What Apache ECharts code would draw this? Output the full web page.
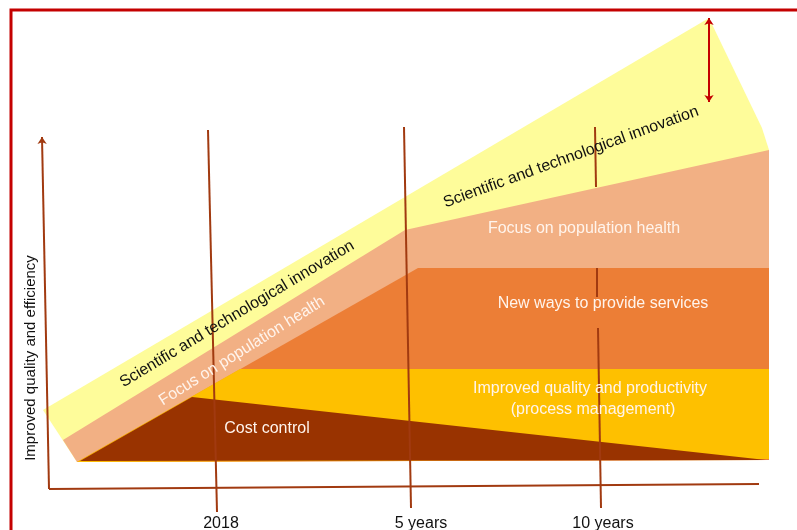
<!DOCTYPE html>
<html>
<head>
<meta charset="utf-8">
<script src="https://cdn.jsdelivr.net/npm/echarts@6/dist/echarts.min.js"></script>
<style>
  html, body { margin: 0; padding: 0; background: #fff; }
  #chart { width: 797px; height: 530px; }
</style>
</head>
<body>
<div id="chart"></div>
<script>
// diagram units: x grows to the right, y grows downward
var innovationArea = [[43, 410], [709, 18], [762, 128], [769, 150], [769, 460], [77, 462]];
var populationArea = [[63, 440], [405, 230], [769, 150], [769, 460], [77, 462]];
var servicesArea = [[77, 462], [418, 268], [769, 268], [769, 460]];
var qualityArea = [[77, 462], [240, 369], [769, 369], [769, 459]];
var costArea = [[80, 461], [192, 397], [766, 460]];

var timeMarks = ['2018', '5 years', '10 years'];
var timeMarkAt = [[221, 524], [421, 524], [603, 524]];
var timeLines = [
  [[208, 130], [217, 512]],
  [[404, 127], [411, 508]],
  [[595, 127], [596, 187]],
  [[597, 268], [597, 297]],
  [[598, 328], [601, 508]]
];
var yAxisLine = [[49, 489], [42, 137]];
var xAxisLine = [[49, 489], [759, 484]];
var gapArrow = [[709, 18], [709, 102]];

var areaNames = [
  'Scientific and technological innovation',
  'Focus on population health',
  'Scientific and technological innovation',
  'Focus on population health',
  'New ways to provide services',
  'Improved quality and productivity',
  '(process management)',
  'Cost control'
];
var areaNameAt = [[237, 314], [242, 351], [571, 157], [584, 229], [603, 304], [590, 389], [593, 410], [267, 429]];
var areaNameAngle = [31, 32, 20, 0, 0, 0, 0, 0];
var areaNameDark = [true, false, true, false, false, false, false, false];

var FONT = '16px "Liberation Sans", Arial, sans-serif';
var LINE = '#a13a10';

function areaSeries(points, color) {
  return {
    type: 'custom',
    coordinateSystem: 'cartesian2d',
    silent: true,
    data: points,
    encode: { x: 0, y: 1 },
    renderItem: function (params, api) {
      if (params.dataIndex !== 0) return;
      return {
        type: 'polygon',
        shape: { points: points.map(function (p) { return api.coord(p); }) },
        style: { fill: color }
      };
    }
  };
}

function textSeries(points, texts, angles, colors, font) {
  return {
    type: 'custom',
    coordinateSystem: 'cartesian2d',
    silent: true,
    data: points,
    encode: { x: 0, y: 1 },
    renderItem: function (params, api) {
      var i = params.dataIndex;
      var c = api.coord(points[i]);
      return {
        type: 'text',
        x: c[0],
        y: c[1],
        rotation: (angles[i] || 0) * Math.PI / 180,
        style: {
          text: texts[i],
          fill: colors[i],
          font: font || FONT,
          align: 'center',
          verticalAlign: 'middle'
        }
      };
    }
  };
}

var chart = echarts.init(document.getElementById('chart'));

var option = {
  animation: false,
  backgroundColor: '#fff',
  grid: { left: 0, right: 0, top: 0, bottom: 0 },
  xAxis: { type: 'value', min: 0, max: 797, show: false },
  yAxis: { type: 'value', min: 0, max: 530, inverse: true, show: false },
  graphic: [{
    type: 'rect',
    shape: { x: 11, y: 10, width: 820, height: 560 },
    style: { fill: null, stroke: '#c40000', lineWidth: 3 },
    z: 100
  }],
  series: [
    areaSeries(innovationArea, '#fefc9a'),
    areaSeries(populationArea, '#f2b084'),
    areaSeries(servicesArea, '#ec7e36'),
    areaSeries(qualityArea, '#fec000'),
    areaSeries(costArea, '#993300'),
    {
      type: 'lines',
      coordinateSystem: 'cartesian2d',
      silent: true,
      lineStyle: { color: LINE, width: 2, opacity: 1 },
      data: timeLines.map(function (c) { return { coords: c }; })
    },
    {
      type: 'lines',
      coordinateSystem: 'cartesian2d',
      silent: true,
      symbol: ['none', 'arrow'],
      symbolSize: 7,
      lineStyle: { color: LINE, width: 2, opacity: 1 },
      data: [{ coords: yAxisLine }]
    },
    {
      type: 'lines',
      coordinateSystem: 'cartesian2d',
      silent: true,
      lineStyle: { color: LINE, width: 2, opacity: 1 },
      data: [{ coords: xAxisLine }]
    },
    {
      type: 'lines',
      coordinateSystem: 'cartesian2d',
      silent: true,
      symbol: ['arrow', 'arrow'],
      symbolSize: 7,
      lineStyle: { color: '#c40000', width: 2, opacity: 1 },
      data: [{ coords: gapArrow }]
    },
    textSeries(areaNameAt, areaNames, areaNameAngle,
      areaNameDark.map(function (d) { return d ? '#111' : '#fff4ec'; })),
    textSeries(timeMarkAt, timeMarks, [0, 0, 0], ['#111', '#111', '#111']),
    textSeries([[31, 358]], ['Improved quality and efficiency'], [90], ['#111'],
      '15px "Liberation Sans", Arial, sans-serif')
  ]
};

chart.setOption(option);
</script>
</body>
</html>
